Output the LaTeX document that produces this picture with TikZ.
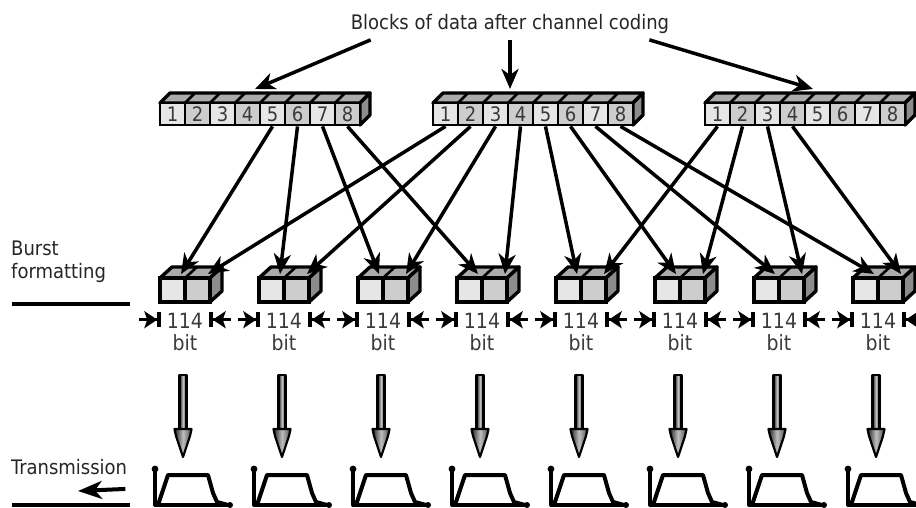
\documentclass[tikz,border=0pt]{standalone}
\usepackage{fontspec}
\setmainfont{DejaVu Sans Condensed}
\usepackage{xcolor}
\usetikzlibrary{arrows.meta,calc}
\definecolor{cellpale}{HTML}{E6E6E6}
\definecolor{celldim}{HTML}{CDCDCD}
\definecolor{lidgray}{HTML}{ABABAB}
\definecolor{flankgray}{HTML}{8C8C8C}
\definecolor{inkgray}{HTML}{3A3A3A}
\tikzstyle{slab}=[draw=black,line width=3.4pt,line join=round]
\tikzstyle{blockcell}=[draw=black,line width=2.8pt,minimum width=25pt,minimum height=22pt,inner sep=0pt,text=inkgray,font=\fontsize{20}{20}\selectfont]
\tikzstyle{burstcell}=[draw=black,line width=3.4pt,minimum width=25pt,minimum height=24pt,inner sep=0pt]
\tikzstyle{feed}=[line width=3.5pt,-{Stealth[length=20pt,width=17pt,inset=6pt]}]
\tikzstyle{spanmark}=[line width=3.5pt,-{Stealth[length=13pt,width=17pt,inset=3pt]Bar[width=15pt,line width=4pt]}]
\tikzstyle{caption}=[inner sep=0pt,text=black!85,font=\fontsize{20}{23}\selectfont]
\tikzstyle{bitlabel}=[inner sep=0pt,align=center,text=inkgray,font=\fontsize{21}{22}\selectfont]
\tikzstyle{pulse}=[line width=4pt,line join=round]
\tikzstyle{tube}=[line width=2.2pt,line join=round,left color=black!85,right color=black!70,middle color=black!25]

\begin{document}
\begin{tikzpicture}[x=1pt,y=-1pt]
\useasboundingbox (0,0) rectangle (916,508);
\node[caption] (title) at (510,24) {Blocks of data after channel coding};
\foreach \b/\x in {A/160,B/433,C/705} {
	\filldraw[slab,fill=lidgray] (\x,103) -- (\x+10,93) -- (\x+210,93) -- (\x+200,103) -- cycle;
	\filldraw[slab,fill=flankgray] (\x+200,103) -- (\x+210,93) -- (\x+210,115) -- (\x+200,125) -- cycle;
	\foreach \k in {1,...,8} {
		\ifodd\k \def\cellfill{cellpale}\else\def\cellfill{celldim}\fi
		\draw[line width=2.6pt] (\x+25*\k,103) -- (\x+25*\k+10,93);
		\node[blockcell,fill=\cellfill] (\b\k) at (\x+25*\k-12.5,114) {\k};
	}
}
\foreach \i in {1,...,8} {
	\pgfmathsetmacro\x{160+99*(\i-1)}
	\filldraw[slab,fill=lidgray] (\x,278) -- (\x+12,267) -- (\x+62,267) -- (\x+50,278) -- cycle;
	\draw[line width=2.6pt] (\x+25,278) -- (\x+37,267);
	\filldraw[slab,fill=flankgray] (\x+50,278) -- (\x+62,267) -- (\x+62,291) -- (\x+50,302) -- cycle;
	\node[burstcell,fill=cellpale] (L\i) at (\x+12.5,290) {};
	\node[burstcell,fill=celldim] (R\i) at (\x+37.5,290) {};
	\coordinate (L\i t) at (\x+21,274);
	\coordinate (R\i t) at (\x+48,274);
	\node[bitlabel] (n\i) at (\x+25,332) {114\\bit};
	\draw[spanmark] ($(L\i.south west)+(-19,16)$) -- ($(L\i.south west)+(3,16)$);
	\draw[spanmark] ($(R\i.south east)+(19,16)$) -- ($(R\i.south east)+(-3,16)$);
	\draw[tube] (\x+19.5,375) rectangle (\x+26.5,430);
	\draw[tube] (\x+14.5,429) -- (\x+31.5,429) -- (\x+30,436) -- (\x+23,457) -- (\x+16,436) -- cycle;
	\draw[pulse] (\x-5,470) -- (\x-5,505) -- (\x+70,505);
	\fill (\x-5,469) circle (3.4pt);
	\fill (\x+70,505) circle (3pt);
	\draw[pulse] (\x-2,505) -- (\x+8,475) -- (\x+48,475) -- (\x+53,493) -- (\x+57,502) -- (\x+68,505);
}
\coordinate (hitA) at (255,89);
\coordinate (hitB) at (510,89);
\coordinate (hitC) at (813,89);
\draw[feed] ($(title.south west)+(20,6)$) -- (hitA);
\draw[feed] ($(title.south)+(0,6)$) -- (hitB);
\draw[feed] ($(title.south east)+(-20,6)$) -- (hitC);
\foreach \k/\i in {5/1,6/2,7/3,8/4} \draw[feed] (A\k.south) -- (L\i t);
\foreach \k/\i in {1/1,2/2,3/3,4/4} \draw[feed] (B\k.south) -- (R\i t);
\foreach \k/\i in {5/5,6/6,7/7,8/8} \draw[feed] (B\k.south) -- (L\i t);
\foreach \k/\i in {1/5,2/6,3/7,4/8} \draw[feed] (C\k.south) -- (R\i t);
\node[caption,anchor=north west,align=left] (burst) at (11,241) {Burst\\formatting};
\draw[line width=3.6pt] (12,304) -- (130,304);
\node[caption,anchor=west] (tx) at (11,467) {Transmission};
\coordinate (txend) at (78,491);
\draw[line width=4pt,-{Stealth[length=24pt,width=18pt,inset=7pt]}] ($(tx.south east)+(-2,14)$) -- (txend);
\draw[line width=3.6pt] (12,505) -- (130,505);
\end{tikzpicture}
\end{document}
